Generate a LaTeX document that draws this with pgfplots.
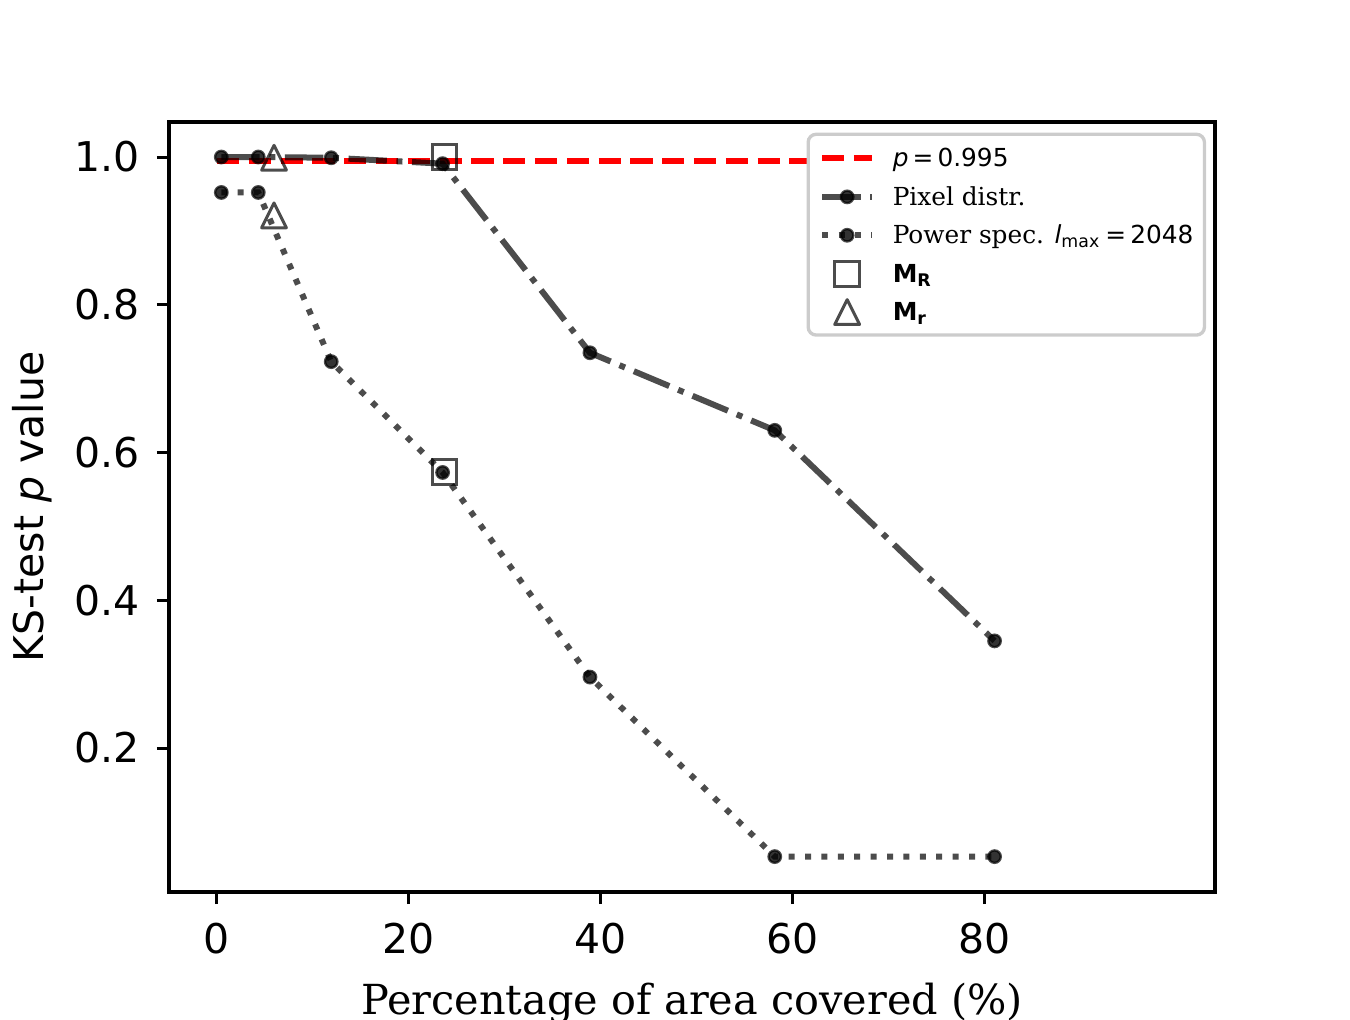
\documentclass[border=0pt]{standalone}
\usepackage{fontspec}
\setmainfont{DejaVu Sans}
\newfontfamily\seriffont{DejaVu Serif}
\usepackage{pgfplots}
\pgfplotsset{compat=1.18}

\pgfdeclareplotmark{mtri}{%
  \pgfpathmoveto{\pgfqpoint{0pt}{\pgfplotmarksize}}%
  \pgfpathlineto{\pgfqpoint{-\pgfplotmarksize}{-\pgfplotmarksize}}%
  \pgfpathlineto{\pgfqpoint{\pgfplotmarksize}{-\pgfplotmarksize}}%
  \pgfpathclose
  \pgfusepathqstroke}

\pgfplotstableread{
x y
0.45 1.000
4.3 1.000
11.9 0.999
23.5 0.991
38.85 0.735
58.1 0.630
81.0 0.345
}\pixel
\pgfplotstableread{
x y
0.45 0.952
4.3 0.952
11.9 0.723
23.5 0.573
38.85 0.296
58.1 0.053
81.0 0.053
}\power
\pgfplotstableread{
x y
23.7 1.000
23.7 0.574
}\mR
\pgfplotstableread{
x y
5.94 0.999
5.94 0.921
}\mr
\pgfplotstableread{
x y
0 0.995
81 0.995
}\hline

\begin{document}
\begin{tikzpicture}
\useasboundingbox (-42.25bp,-32bp) rectangle (295.25bp,223bp);
\begin{axis}[
  at={(0,0)}, anchor=south west,
  scale only axis, width=261.5bp, height=192.5bp,
  xmin=-5, xmax=103.96, ymin=0.0051, ymax=1.0474,
  axis line style={line width=0.83bp},
  tick align=outside, tick pos=left,
  major tick length=3bp,
  every tick/.style={line width=0.75bp, black},
  xtick={0,20,40,60,80}, xticklabels={0,20,40,60,80},
  ytick={0.2,0.4,0.6,0.8,1.0}, yticklabels={0.2,0.4,0.6,0.8,1.0},
  tick label style={font=\fontsize{10.25bp}{12bp}\selectfont, inner sep=0pt},
  xticklabel style={anchor=north},
  yticklabel style={anchor=east},
  xticklabel shift=4.6bp,
  yticklabel shift=4.1bp,
  xlabel={Percentage of area covered (\%)},
  ylabel={KS-test \textit{p} value},
  xlabel style={at={(axis description cs:0.5,-0.1597)}, anchor=base, inner sep=0pt,
    font=\seriffont\fontsize{10.35bp}{12bp}\selectfont},
  ylabel style={at={(axis description cs:-0.131,0.5)}, anchor=center, inner sep=0pt,
    font=\fontsize{10.25bp}{12bp}\selectfont},
  legend cell align=left,
  legend style={at={(0.9915,0.9862)}, anchor=north east,
    draw=black!20, line width=0.83bp, rounded corners=2bp, fill=white,
    inner xsep=2.75bp, inner ysep=1.1bp,
    font=\fontsize{6.2bp}{7.4bp}\selectfont,
    row sep=0bp, column sep=4.4bp,
    nodes={inner sep=0pt, text height=7.05bp, text depth=2.55bp, anchor=base west}},
]
\addplot[red, line width=1.5bp, dash pattern=on 5.55bp off 2.4bp,
  legend image code/.code={\draw[red, line width=1.5bp, dash pattern=on 5.55bp off 2.4bp] (0bp,2.1bp) -- (12.5bp,2.1bp);}]
  table[x=x,y=y] {\hline};
\addlegendentry{\textit{p}\,=\,0.995}

\addplot[draw=black, draw opacity=0.7, line width=1.5bp,
  dash pattern=on 9.6bp off 2.4bp on 1.5bp off 2.4bp,
  mark=*, mark size=1.55bp,
  mark options={solid, draw=black, draw opacity=0.7, fill=black, fill opacity=0.8, line width=0.6bp},
  legend image code/.code={\draw[mark repeat=2, mark phase=2] plot coordinates {(0bp,2.1bp) (6.25bp,2.1bp) (12.5bp,2.1bp)};}]
  table[x=x,y=y] {\pixel};
\addlegendentry{{\seriffont Pixel distr.}}

\addplot[draw=black, draw opacity=0.7, line width=1.5bp,
  dash pattern=on 1.5bp off 2.6bp,
  mark=*, mark size=1.55bp,
  mark options={solid, draw=black, draw opacity=0.7, fill=black, fill opacity=0.8, line width=0.6bp},
  legend image code/.code={\draw[mark repeat=2, mark phase=2] plot coordinates {(0bp,2.1bp) (6.25bp,2.1bp) (12.5bp,2.1bp)};}]
  table[x=x,y=y] {\power};
\addlegendentry{{\seriffont Power spec.} \textit{l}\textsubscript{max}\,=\,2048}

\addplot[only marks, mark=square, mark size=3.1bp,
  mark options={solid, draw=black, draw opacity=0.7, fill=none, line width=0.75bp},
  legend image code/.code={\draw plot coordinates {(6.25bp,2.1bp)};}]
  table[x=x,y=y] {\mR};
\addlegendentry{\textbf{M}\textsubscript{\textbf{R}}}

\addplot[only marks, mark=mtri, mark size=3.1bp,
  mark options={solid, draw=black, draw opacity=0.7, fill=none, line width=0.75bp, line join=round},
  legend image code/.code={\draw plot coordinates {(6.25bp,2.1bp)};}]
  table[x=x,y=y] {\mr};
\addlegendentry{\textbf{M}\textsubscript{\textbf{r}}}
\end{axis}
\end{tikzpicture}
\end{document}
